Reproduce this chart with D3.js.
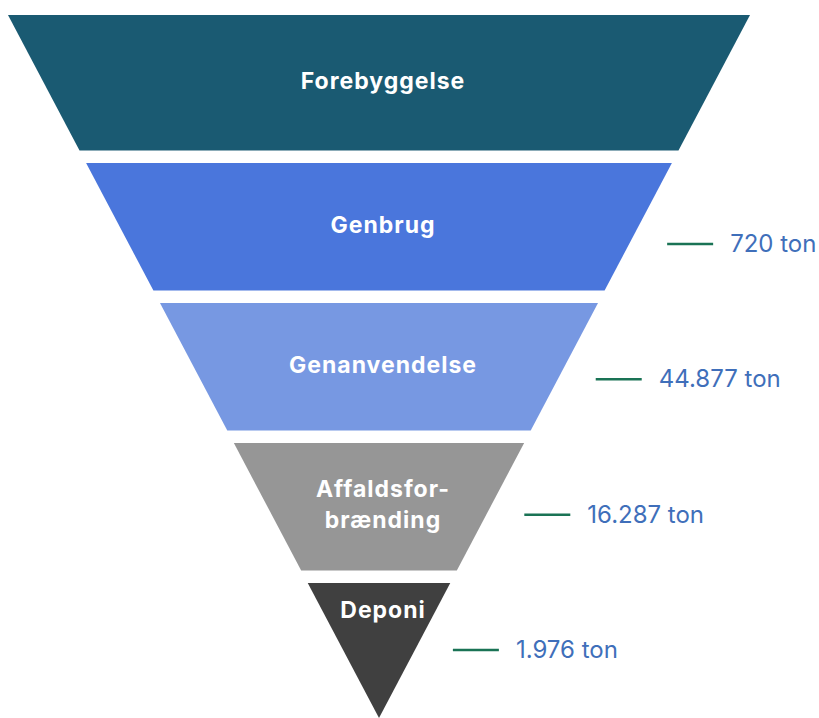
<!DOCTYPE html>
<html>
<head>
<meta charset="utf-8">
<script src="https://cdn.jsdelivr.net/npm/d3@7"></script>
<style>
  body { margin: 0; background: #fff; }
</style>
</head>
<body>
<div id="chart"></div>
<script>
const width = 819;
const height = 718;

// Data
const categories = ["Forebyggelse", "Genbrug", "Genanvendelse", "Affaldsfor-brænding", "Deponi"];
const labelLines = [["Forebyggelse"], ["Genbrug"], ["Genanvendelse"], ["Affaldsfor-", "brænding"], ["Deponi"]];
const amounts = [null, "720 ton", "44.877 ton", "16.287 ton", "1.976 ton"];
const colors = ["#1a5a72", "#4a76dc", "#7798e2", "#969696", "#404040"];

const svg = d3.select("#chart")
    .append("svg")
    .attr("width", width)
    .attr("height", height);

// Half width of the triangle as a function of y
const cx = 379;
const [yTop, yApex] = [15, 718];
const halfW = d3.scaleLinear()
    .domain([yTop, yApex])
    .range([371, 0]);

// Vertical bands for the slices (first and last reach the triangle ends)
const y = d3.scaleBand()
    .domain(categories)
    .range([23, 710.5])
    .paddingInner(0.089);

const rows = categories.map((c, i) => ({
    name: c,
    lines: labelLines[i],
    amount: amounts[i],
    color: colors[i],
    top: i === 0 ? yTop : y(c),
    bottom: i === categories.length - 1 ? yApex : y(c) + y.bandwidth()
}));

const g = svg.append("g");

g.selectAll("path.slice")
    .data(rows)
    .enter()
    .append("path")
    .attr("class", "slice")
    .attr("fill", d => d.color)
    .attr("d", d => {
        const t = halfW(d.top), b = halfW(d.bottom);
        return `M${cx - t},${d.top}L${cx + t},${d.top}L${cx + b},${d.bottom}L${cx - b},${d.bottom}Z`;
    });

// Slice labels
const labels = g.selectAll("text.name")
    .data(rows)
    .enter()
    .append("text")
    .attr("class", "name")
    .attr("text-anchor", "middle")
    .attr("fill", "#fff")
    .style("font-family", "Inter, 'Open Sans', sans-serif")
    .style("font-weight", 700)
    .style("font-size", "23px")
    .style("letter-spacing", "1px");

labels.each(function(d, i) {
    const n = d.lines.length;
    const lineH = 31;
    // last slice is a triangle, text sits near its top
    const mid = i === rows.length - 1 ? d.top + 27 : (d.top + d.bottom) / 2 - 2;
    d3.select(this).selectAll("tspan")
        .data(d.lines)
        .enter()
        .append("tspan")
        .attr("x", cx + 4)
        .attr("y", (l, k) => mid + (k - (n - 1) / 2) * lineH)
        .attr("dy", "0.35em")
        .text(l => l);
});

// Amount markers on the right, evenly spaced
const withAmount = rows.filter(d => d.amount);
const markScale = d3.scalePoint()
    .domain(withAmount.map(d => d.name))
    .range([244, 650]);
const markY = d => markScale(d.name);
const markX = d => cx + halfW(markY(d)) + 38;

g.selectAll("line.mark")
    .data(withAmount)
    .enter()
    .append("line")
    .attr("class", "mark")
    .attr("x1", markX)
    .attr("x2", d => markX(d) + 46)
    .attr("y1", markY)
    .attr("y2", markY)
    .attr("stroke", "#1a7355")
    .attr("stroke-width", 2.5);

g.selectAll("text.amount")
    .data(withAmount)
    .enter()
    .append("text")
    .attr("class", "amount")
    .attr("x", d => markX(d) + 63)
    .attr("y", markY)
    .attr("dy", "0.33em")
    .attr("fill", "#3f6fba")
    .style("font-family", "Inter, sans-serif")
    .style("font-size", "24px")
    .text(d => d.amount);
</script>
</body>
</html>
